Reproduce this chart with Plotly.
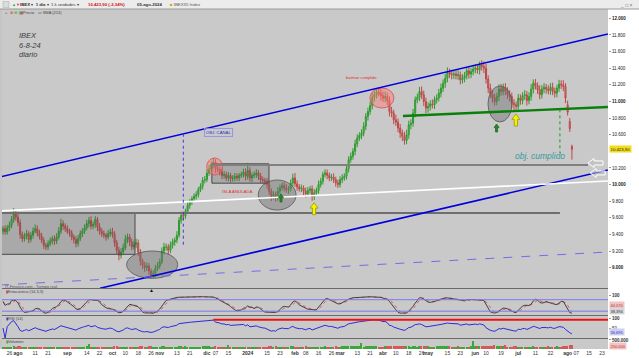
import numpy as np
import pandas as pd
import plotly.graph_objects as go
from plotly.subplots import make_subplots

# ---------------- data ----------------
holidays = ["2023-12-25", "2023-12-26", "2024-01-01", "2024-03-29", "2024-04-01", "2024-05-01"]

closes = [
    # Jul 2023 (21..31)
    9470, 9430, 9480, 9510, 9580, 9650, 9610,
    # Aug
    9540, 9400, 9350, 9380, 9410, 9340, 9390, 9440, 9470, 9420,
    9380, 9330, 9270, 9250, 9290, 9320, 9350, 9320, 9370, 9440,
    9530, 9500, 9470,
    # Sep
    9440, 9420, 9370, 9340, 9290, 9350, 9410, 9440, 9480, 9530,
    9570, 9500, 9520, 9580, 9490, 9440, 9410, 9390, 9370, 9410,
    9430,
    # Oct
    9400, 9300, 9210, 9150, 9190, 9240, 9340, 9370, 9310, 9250,
    9280, 9300, 9190, 9080, 9030, 9000, 9020, 8960, 8910, 8930,
    8990, 9020,
    # Nov
    9070, 9200, 9250, 9250, 9210, 9270, 9310, 9330, 9390, 9570,
    9630, 9620, 9680, 9750, 9790, 9830, 9860, 9880, 9940, 9980,
    10050, 10060,
    # Dec
    10140, 10190, 10240, 10270, 10190, 10180, 10150, 10110, 10120, 10080,
    10110, 10070, 10080, 10100, 10080, 10110, 10120, 10150, 10100,
    # Jan 2024
    10170, 10080, 10110, 10120, 10140, 10100, 10060, 10050, 10040, 10000,
    9920, 9860, 9880, 9840, 9920, 9960, 9990, 9960, 9940, 9950,
    10020, 10080,
    # Feb
    10010, 9970, 9950, 9960, 9920, 9890, 9930, 9950, 9860, 9900,
    9930, 10000, 10040, 10120, 10140, 10110, 10080, 10090, 10060, 10020,
    10000,
    # Mar
    10060, 10080, 10100, 10190, 10300, 10340, 10400, 10490, 10560, 10590,
    10620, 10700, 10820, 10880, 10950, 11050, 11080, 11110, 11100, 11070,
    # Apr
    11040, 11060, 11010, 10880, 10860, 10780, 10750, 10680, 10620, 10580,
    10530, 10600, 10720, 10740, 10860, 11020, 11050, 11120, 11080, 11000,
    10920,
    # May
    10940, 10970, 10960, 11020, 11040, 11100, 11160, 11220, 11280, 11350,
    11330, 11320, 11330, 11310, 11320, 11260, 11280, 11310, 11370, 11330,
    11360, 11390,
    # Jun
    11400, 11380, 11440, 11420, 11400, 11270, 11160, 11090, 11040, 11000,
    11060, 11150, 11120, 11170, 11130, 11080, 11060, 10980, 10960, 10940,
    # Jul
    11040, 11010, 11070, 11080, 11010, 11060, 11150, 11220, 11190, 11140,
    11080, 11150, 11170, 11150, 11130, 11170, 11120, 11100, 11160, 11210,
    11200, 11180, 11040,
    # Aug
    10870, 10673, 10424,
]

up_wick = [
    30, 40, 35, 45, 40, 70, 40,
    50, 40, 35, 40, 45, 30, 40, 45, 50, 40, 35, 40, 35, 30, 40, 45, 35, 40, 45, 50, 60, 40, 35,
    40, 30, 35, 30, 40, 45, 40, 35, 40, 45, 40, 50, 35, 40, 30, 45, 35, 40, 30, 45, 40,
    50, 40, 35, 40, 45, 50, 55, 40, 35, 40, 45, 50, 40, 35, 30, 40, 45, 35, 30, 40, 45, 50,
    40, 45, 50, 40, 35, 45, 40, 35, 50, 40, 45, 35, 30, 40, 35, 30, 35, 40, 30, 35, 40, 45,
    40, 45, 40, 50, 35, 40, 35, 40, 45, 35, 40, 30, 35, 40, 35, 30, 35, 40, 45,
    90, 40, 35, 40, 45, 35, 40, 35, 30, 40, 45, 35, 40, 35, 50, 40, 35, 40, 45, 35, 40, 50,
    60, 40, 35, 40, 30, 45, 40, 35, 40, 45, 35, 50, 40, 35, 45, 40, 35, 40, 45, 35, 40,
    40, 45, 35, 50, 40, 45, 40, 50, 45, 40, 45, 50, 40, 45, 50, 55, 45, 40, 60, 50,
    50, 60, 45, 50, 55, 40, 60, 45, 50, 40, 55, 60, 50, 45, 50, 40, 45, 55, 60, 50, 45,
    50, 45, 55, 40, 45, 50, 55, 45, 50, 60, 45, 50, 40, 45, 55, 40, 50, 45, 40, 55, 45, 50,
    45, 50, 40, 55, 60, 50, 45, 55, 40, 50, 45, 55, 60, 45, 50, 40, 55, 45, 50, 40,
    50, 45, 40, 55, 45, 50, 60, 45, 50, 40, 55, 45, 50, 40, 45, 50, 55, 45, 40, 50, 45, 55, 40,
    50, 40, 20,
]

dn_wick = [
    40, 35, 30, 40, 35, 40, 45,
    40, 50, 40, 35, 40, 45, 35, 40, 30, 45, 40, 35, 45, 40, 35, 30, 40, 45, 35, 30, 35, 45, 40,
    35, 45, 40, 50, 45, 35, 30, 40, 35, 30, 45, 40, 35, 40, 50, 45, 40, 35, 45, 30, 35,
    40, 50, 45, 60, 40, 35, 30, 45, 50, 40, 35, 45, 50, 55, 45, 50, 40, 45, 40, 35, 40, 30,
    35, 30, 40, 45, 50, 35, 40, 45, 35, 30, 40, 45, 35, 30, 40, 35, 30, 40, 35, 30, 40, 35,
    30, 35, 40, 45, 50, 35, 40, 45, 40, 35, 40, 45, 35, 40, 35, 40, 30, 35, 50,
    40, 45, 50, 35, 40, 45, 40, 35, 40, 50, 45, 60, 40, 45, 35, 40, 35, 45, 40, 50, 35, 40,
    40, 45, 35, 40, 50, 45, 35, 40, 55, 45, 35, 40, 35, 40, 35, 45, 40, 35, 40, 45, 40,
    35, 40, 35, 40, 45, 35, 40, 45, 40, 35, 45, 40, 45, 50, 40, 45, 50, 45, 40, 60,
    45, 50, 55, 60, 50, 55, 45, 50, 60, 55, 50, 45, 50, 55, 45, 50, 40, 45, 50, 55, 60,
    55, 50, 45, 50, 45, 40, 50, 45, 55, 50, 45, 55, 50, 45, 50, 55, 45, 50, 45, 55, 50, 45,
    50, 45, 55, 50, 60, 55, 60, 50, 55, 50, 45, 55, 50, 45, 55, 50, 60, 55, 80, 50,
    55, 50, 45, 50, 60, 45, 50, 55, 45, 50, 55, 45, 50, 55, 45, 50, 45, 55, 50, 45, 50, 55, 60,
    40, 40, 124,
]

volume_k = [
    110, 120, 100, 120, 130, 140, 120,
    150, 160, 130, 110, 100, 110, 120, 110, 100, 90, 80, 100, 110, 120, 110, 100, 90, 100, 95, 110, 120, 100, 95,
    110, 90, 100, 110, 120, 100, 95, 110, 120, 140, 280, 120, 100, 110, 130, 120, 110, 100, 120, 130, 110,
    120, 140, 150, 130, 110, 120, 130, 110, 100, 110, 100, 110, 130, 140, 150, 130, 120, 140, 150, 130, 120, 110,
    130, 150, 140, 120, 110, 130, 120, 110, 120, 170, 150, 130, 140, 130, 120, 110, 100, 110, 120, 130, 140, 160,
    150, 140, 130, 120, 180, 130, 120, 110, 130, 120, 230, 110, 100, 95, 85, 75, 70, 80, 90,
    110, 130, 120, 110, 120, 110, 100, 110, 120, 130, 140, 150, 130, 140, 120, 130, 120, 110, 120, 130, 140, 150,
    130, 120, 110, 120, 130, 140, 120, 110, 130, 120, 110, 130, 120, 130, 140, 120, 110, 120, 130, 140, 130,
    130, 140, 150, 160, 150, 140, 170, 150, 160, 170, 330, 130, 140, 150, 160, 170, 150, 140, 130, 120,
    130, 140, 150, 160, 150, 140, 160, 150, 160, 170, 180, 150, 140, 130, 150, 140, 130, 140, 150, 160, 150,
    140, 130, 120, 130, 140, 150, 160, 150, 140, 150, 140, 130, 120, 130, 140, 130, 120, 110, 120, 130, 150, 440,
    140, 150, 160, 150, 140, 180, 170, 160, 150, 200, 180, 160, 150, 140, 230, 130, 120, 130, 140, 150,
    130, 120, 130, 110, 100, 120, 130, 140, 120, 130, 120, 110, 130, 120, 140, 110, 120, 130, 140, 130, 120, 140, 160,
    180, 200, 230,
]

first_open = 9440
open_override = {"2024-08-01": 10960, "2024-08-02": 10760, "2024-08-05": 10460}
rsi_line_start = "2023-12-06"

tick_dates = ["2023-07-26", "2023-08-01", "2023-08-11", "2023-08-21", "2023-09-01", "2023-09-14",
              "2023-09-22", "2023-10-02", "2023-10-10", "2023-10-18", "2023-10-26", "2023-11-01",
              "2023-11-13", "2023-11-21", "2023-12-01", "2023-12-07", "2023-12-15", "2024-01-02",
              "2024-01-15", "2024-01-23", "2024-02-01", "2024-02-08", "2024-02-16", "2024-02-26",
              "2024-03-01", "2024-03-13", "2024-03-21", "2024-04-02", "2024-04-10", "2024-04-18",
              "2024-04-26", "2024-05-02", "2024-05-15", "2024-05-23", "2024-06-03", "2024-06-10",
              "2024-06-19", "2024-07-01", "2024-07-11", "2024-07-22", "2024-08-01", "2024-08-07",
              "2024-08-15", "2024-08-23"]
tick_labels = ["26", "ago", "11", "21", "sep", "14", "22", "oct", "10", "18", "26", "nov", "13", "21",
               "dic", "07", "15", "2024", "15", "23", "feb", "08", "16", "26", "mar", "13", "21", "abr",
               "10", "18", "26", "may", "15", "23", "jun", "10", "19", "jul", "11", "22", "ago", "07",
               "15", "23"]
month_labels = {"ago", "sep", "oct", "nov", "dic", "2024", "feb", "mar", "abr", "may", "jun", "jul"}

price_ticks = [9000, 9200, 9400, 9600, 9800, 10000, 10200, 10600, 10800,
               11000, 11200, 11400, 11600, 11800, 12000]

# ---------------- build series ----------------
days = [d.strftime("%Y-%m-%d") for d in pd.bdate_range("2023-07-21", "2024-08-30")
        if d.strftime("%Y-%m-%d") not in holidays]
idx = {d: i for i, d in enumerate(days)}
last = idx["2024-08-05"]
n = min(len(closes), last + 1, len(up_wick), len(dn_wick), len(volume_k))
data_days = days[last + 1 - n:last + 1]
closes = closes[-n:]
up_wick = up_wick[-n:]
dn_wick = dn_wick[-n:]
volume_k = volume_k[-n:]
xs = [idx[d] for d in data_days]

opens = []
prev = first_open
for d, c in zip(data_days, closes):
    opens.append(open_override.get(d, prev))
    prev = c
highs = [max(o, c) + u for o, c, u in zip(opens, closes, up_wick)]
lows = [min(o, c) - w for o, c, w in zip(opens, closes, dn_wick)]

df = pd.DataFrame({"o": opens, "h": highs, "l": lows, "c": closes})
hh = df.h.rolling(14, min_periods=1).max()
ll = df.l.rolling(14, min_periods=1).min()
raw_k = 100 * (df.c - ll) / (hh - ll)
stoch_k = raw_k.rolling(3, min_periods=1).mean()
stoch_d = stoch_k.rolling(3, min_periods=1).mean()
delta = df.c.diff().fillna(0)
ag = delta.clip(lower=0).ewm(alpha=1 / 14, adjust=False).mean()
al = (-delta.clip(upper=0)).ewm(alpha=1 / 14, adjust=False).mean()
rsi = 100 - 100 / (1 + ag / al.replace(0, np.nan))
rsi = rsi.fillna(50)

up_col, dn_col = "#3aa83a", "#d45a5a"
vol_colors = [up_col if c >= o else dn_col for o, c in zip(opens, closes)]

# ---------------- figure ----------------
fig = make_subplots(rows=4, cols=1, shared_xaxes=True, vertical_spacing=0.0)

fig.add_trace(go.Candlestick(
    x=xs, open=opens, high=highs, low=lows, close=closes,
    increasing=dict(line=dict(color="#2f9a2f", width=1), fillcolor="#55c455"),
    decreasing=dict(line=dict(color="#c04848", width=1), fillcolor="#e07070"),
    whiskerwidth=0, showlegend=False), row=1, col=1)

fig.add_trace(go.Scatter(x=xs, y=stoch_d, mode="lines", line=dict(color="#e05a5a", width=1, dash="dot"),
                         showlegend=False, hoverinfo="skip"), row=2, col=1)
fig.add_trace(go.Scatter(x=xs, y=stoch_k, mode="lines", line=dict(color="#404040", width=1),
                         showlegend=False), row=2, col=1)
fig.add_trace(go.Scatter(x=xs, y=rsi, mode="lines", line=dict(color="#2a2ae0", width=1),
                         showlegend=False), row=3, col=1)
fig.add_trace(go.Bar(x=xs, y=[v * 1000 for v in volume_k], marker=dict(color=vol_colors, line=dict(width=0)),
                     width=0.6, showlegend=False), row=4, col=1)

# geometry helpers (pixel -> paper)
L, T, PW, PH = 2, 9, 606, 340


def pxx(p):
    return (p - L) / PW


def pxy(p):
    return (T + PH - p) / PH


X0, X1 = -0.45, 281.8
fig.update_xaxes(range=[X0, X1], showgrid=False, zeroline=False, showticklabels=False,
                 rangeslider_visible=False, showline=False, ticks="", automargin=False)
fig.update_yaxes(automargin=False)
fig.update_xaxes(row=4, col=1, showticklabels=True,
                 tickvals=[idx[d] for d in tick_dates if d in idx],
                 ticktext=[("<b>%s</b>" % t if t in month_labels else t)
                           for d, t in zip(tick_dates, tick_labels) if d in idx],
                 tickfont=dict(size=5, color="#333"), tickangle=0, ticklabelstandoff=0)

tt = []
for v in price_ticks:
    s = "{:,}".format(v).replace(",", ".")
    tt.append("<b>%s</b>" % s if v % 1000 == 0 else s)

fig.update_layout(
    width=639, height=358, margin=dict(l=L, r=639 - L - PW, t=T, b=358 - T - PH),
    paper_bgcolor="white", plot_bgcolor="#c9c9c9",
    font=dict(family="Liberation Sans, Arial, sans-serif", size=5, color="#333"),
    showlegend=False, bargap=0,
    yaxis=dict(domain=[pxy(288), 1], range=[8756, 12112], side="right", tickvals=price_ticks,
               ticktext=tt, tickfont=dict(size=4.5, color="#222"), ticks="outside", ticklen=2,
               tickcolor="#999", showgrid=False, zeroline=False),
    yaxis2=dict(domain=[pxy(315), pxy(289)], range=[0, 136], side="right", tickvals=[100],
                ticktext=["<b>100</b>"], tickfont=dict(size=4.5), ticks="outside", ticklen=2,
                tickcolor="#999", showgrid=False, zeroline=False),
    yaxis3=dict(domain=[pxy(338), pxy(316)], range=[0, 110], side="right", tickvals=[100, 50],
                ticktext=["<b>100</b>", "50"], tickfont=dict(size=4.5), ticks="outside", ticklen=2,
                tickcolor="#999", showgrid=False, zeroline=False),
    yaxis4=dict(domain=[0, pxy(339)], range=[0, 555000], side="right", tickvals=[500000],
                ticktext=["<b>500.000</b>"], tickfont=dict(size=4.5), ticks="outside", ticklen=2,
                tickcolor="#999", showgrid=False, zeroline=False),
)

shapes = []


def seg(x0, y0, x1, y1, color, width, dash="solid", xref="x", yref="y"):
    shapes.append(dict(type="line", xref=xref, yref=yref, x0=x0, y0=y0, x1=x1, y1=y1,
                       line=dict(color=color, width=width, dash=dash)))


# boxes
shapes.append(dict(type="rect", xref="x", yref="y", x0=-1.4, x1=61.5, y0=9161, y1=9658,
                   fillcolor="rgba(85,85,85,0.28)", line=dict(color="#4a4a4a", width=1)))
shapes.append(dict(type="rect", xref="x", yref="y", x0=97.3, x1=123.9, y0=10017, y1=10250,
                   fillcolor="rgba(85,85,85,0.28)", line=dict(color="#4a4a4a", width=1)))
# ellipses
for (a, b, c, d) in [(57.6, 81.4, 8872, 9201), (118.9, 136.5, 9694, 10055), (225.9, 237.1, 10753, 11186)]:
    shapes.append(dict(type="circle", xref="x", yref="y", x0=a, x1=b, y0=c, y1=d,
                       fillcolor="rgba(110,110,110,0.45)", line=dict(color="#555", width=0.8)))
for (a, b, c, d) in [(94.9, 102.3, 10115, 10320), (170.9, 182.1, 10921, 11162)]:
    shapes.append(dict(type="circle", xref="x", yref="y", x0=a, x1=b, y0=c, y1=d,
                       fillcolor="rgba(255,120,120,0.45)", line=dict(color="#e04a4a", width=0.8)))

# horizontal levels
seg(-1.4, 9658, 259.4, 9658, "#6e6e6e", 2)
seg(97.3, 10236, 272.5, 10236, "#808080", 2)
# channel & trend lines
seg(-1.38, 10091, 281.76, 11811, "#0000dd", 1.6)
seg(45.2, 8753, 281.76, 10175, "#0000dd", 1.6)
seg(-1.38, 8792, 281.76, 9189, "#6f6fe6", 1, "dash")
seg(-1.38, 9682, 281.76, 10043, "#ffffff", 1.6)
seg(186.3, 10825, 281.76, 10933, "#0a800a", 2.4)
# vertical guides
seg(84, 10612, 84, 9273, "#3b3bdd", 1, "dot")
seg(259.4, 10905, 259.4, 10380, "#1a9a1a", 1, "dot")


def arrow(xc, ytip, w, h, fill, edge):
    hw, sw = w / 2.0, w / 5.0
    hh_ = h * 0.45
    path = ("M0,0 L%.1f,%.1f L%.1f,%.1f L%.1f,%.1f L%.1f,%.1f L%.1f,%.1f L%.1f,%.1f Z" %
            (hw, -hh_, sw, -hh_, sw, -h, -sw, -h, -sw, -hh_, -hw, -hh_))
    shapes.append(dict(type="path", xref="x", yref="y", xsizemode="pixel", ysizemode="pixel",
                       xanchor=xc, yanchor=ytip, path=path, fillcolor=fill,
                       line=dict(color=edge, width=0.8)))


arrow(129.5, 9887, 5, 8, "#2a8a2a", "#1d6a1d")
arrow(229.9, 10729, 5, 8, "#2a8a2a", "#1d6a1d")
arrow(144.9, 9782, 8, 12, "#f4f400", "#9a9a00")
arrow(238.9, 10849, 8, 12, "#f4f400", "#9a9a00")


def left_arrow(xtip, yc, w, h):
    hh2, sh = h / 2.0, h / 4.5
    path = ("M0,0 L%.1f,%.1f L%.1f,%.1f L%.1f,%.1f L%.1f,%.1f L%.1f,%.1f L%.1f,%.1f Z" %
            (w * 0.4, hh2, w * 0.4, sh, w, sh, w, -sh, w * 0.4, -sh, w * 0.4, -hh2))
    shapes.append(dict(type="path", xref="x", yref="y", xsizemode="pixel", ysizemode="pixel",
                       xanchor=xtip, yanchor=yc, path=path, fillcolor="rgba(190,190,190,0.6)",
                       line=dict(color="#ffffff", width=1)))


left_arrow(272.5, 10260, 15, 9)
left_arrow(273.5, 10140, 15, 9)

# stochastic bands, rsi ref line
seg(0, 80, 1, 80, "#7a7aee", 1, xref="paper", yref="y2")
seg(0, 20, 1, 20, "#7a7aee", 1, xref="paper", yref="y2")
rsi_top = float(rsi.max())
seg(idx[rsi_line_start], rsi_top, X1, rsi_top, "#ee1111", 2, xref="x3", yref="y3")

# panel separators and chrome
for py in [288.5, 315.5, 338.5]:
    seg(0, pxy(py), 1, pxy(py), "#6a6a6a", 1, xref="paper", yref="paper")
seg(pxx(1), pxy(9), pxx(1), pxy(349), "#8a8a8a", 1, xref="paper", yref="paper")
shapes.append(dict(type="rect", xref="paper", yref="paper", x0=pxx(0), x1=pxx(639), y0=pxy(9), y1=pxy(0),
                   fillcolor="#ececec", line=dict(width=0), layer="below"))
seg(pxx(0), pxy(9), pxx(639), pxy(9), "#9a9a9a", 1, xref="paper", yref="paper")
shapes.append(dict(type="rect", xref="paper", yref="paper", x0=pxx(3), x1=pxx(9), y0=pxy(7.5), y1=pxy(1.5),
                   fillcolor="#dcdcdc", line=dict(color="#aaa", width=0.5)))
fig.update_layout(shapes=shapes)

ann = []


def txt(x, y, s, size=5, color="#333", xref="x", yref="y", xanchor="center", **kw):
    ann.append(dict(x=x, y=y, xref=xref, yref=yref, text=s, showarrow=False, xanchor=xanchor,
                    yanchor="middle", font=dict(size=size, color=color), **kw))


# chart notes
txt(pxx(17), pxy(35.5), "<i>IBEX</i>", 7.5, "#3a3a3a", "paper", "paper", "left")
txt(pxx(17), pxy(45.5), "<i>6-8-24</i>", 7.5, "#3a3a3a", "paper", "paper", "left")
txt(pxx(17), pxy(55), "<i>diario</i>", 7.5, "#3a3a3a", "paper", "paper", "left")
txt(100.6, 10630, "OBJ. CANAL", 4.3, "#3030c0", bordercolor="#8c8ce6", borderwidth=0.8, borderpad=1)
txt(108.8, 9911, "ISLA ANULADA", 4.3, "#e03030")
txt(167.0, 11288, "batman cumplido", 4.0, "#e03030")
txt(250.1, 10338, "<i>obj. cumplido</i>", 8.5, "#3a9a9a")
txt(69.4, pxy(289.5), "▲", 5, "#111", "x", "paper")
txt(pxx(3), pxy(286), "IT-Finance.com - Tiempo real", 4, "#555", "paper", "paper", "left")

# top toolbar
txt(pxx(18), pxy(4.5), "<b>IBEX</b> ▾  <b>1 día</b> ▾  1 k unidades ▾", 4.3, "#333", "paper", "paper", "left")
txt(pxx(86), pxy(4.5), "<b>10.423,90 (-2,34%)</b>", 4.3, "#d01010", "paper", "paper", "left")
txt(pxx(135), pxy(4.5), "<b>05-ago-2024</b>", 4.3, "#333", "paper", "paper", "left")
txt(pxx(168), pxy(4.5), "<span style='color:#e0a000'>■</span> IBEX35 Index", 4.3, "#555", "paper", "paper", "left")
txt(pxx(10), pxy(4.5), "<span style='color:#2a2'>▲</span><span style='color:#d33'>▼</span>", 4, "#333",
    "paper", "paper", "left")
txt(pxx(626), pxy(4.5), "_ □ ×", 5, "#777", "paper", "paper", "center")
txt(pxx(3), pxy(12.5), "+  <span style='color:#d33'>⊗</span> <span style='color:#3a3'>⊞</span>  "
    "<span style='color:#3a3'>▮</span><span style='color:#d33'>▮</span>Precio   ▭ SMA (224)",
    4, "#444", "paper", "paper", "left")

# right-axis value boxes
txt(1, 10424, "10.423,90", 4.3, "#222", "paper", "y", "left", xshift=1, bgcolor="#f2dc1c", borderpad=0.5)
txt(1, 42, "40,070", 4, "#c03030", "paper", "y2", "left", xshift=1, yshift=2, bgcolor="#f0c4c4", borderpad=0.5)
txt(1, 38, "38,394", 4, "#333", "paper", "y2", "left", xshift=1, yshift=-3, bgcolor="#d6d6d6", borderpad=0.5)
txt(1, 32, "36,695", 4, "#3030c0", "paper", "y3", "left", xshift=1, bgcolor="#cfcff2", borderpad=0.5)
txt(1, 180000, "250.000", 4, "#c03030", "paper", "y4", "left", xshift=1, bgcolor="#f0c4c4", borderpad=0.5)
txt(pxx(4), pxy(291.5), "<span style='color:#c33'>▮</span>Estocástico (14,3,3)", 4, "#444",
    "paper", "paper", "left")
txt(pxx(4), pxy(318.5), "<span style='color:#33c'>▮</span>RSI (14)", 4, "#444", "paper", "paper", "left")
txt(pxx(4), pxy(341.5), "<span style='color:#3a3'>▮</span>Volumen", 4, "#444", "paper", "paper", "left")

fig.update_layout(annotations=ann)
fig.write_html("out.html", config={"displayModeBar": False},
               post_script="document.body.style.margin='0px';document.body.style.padding='0px';")
